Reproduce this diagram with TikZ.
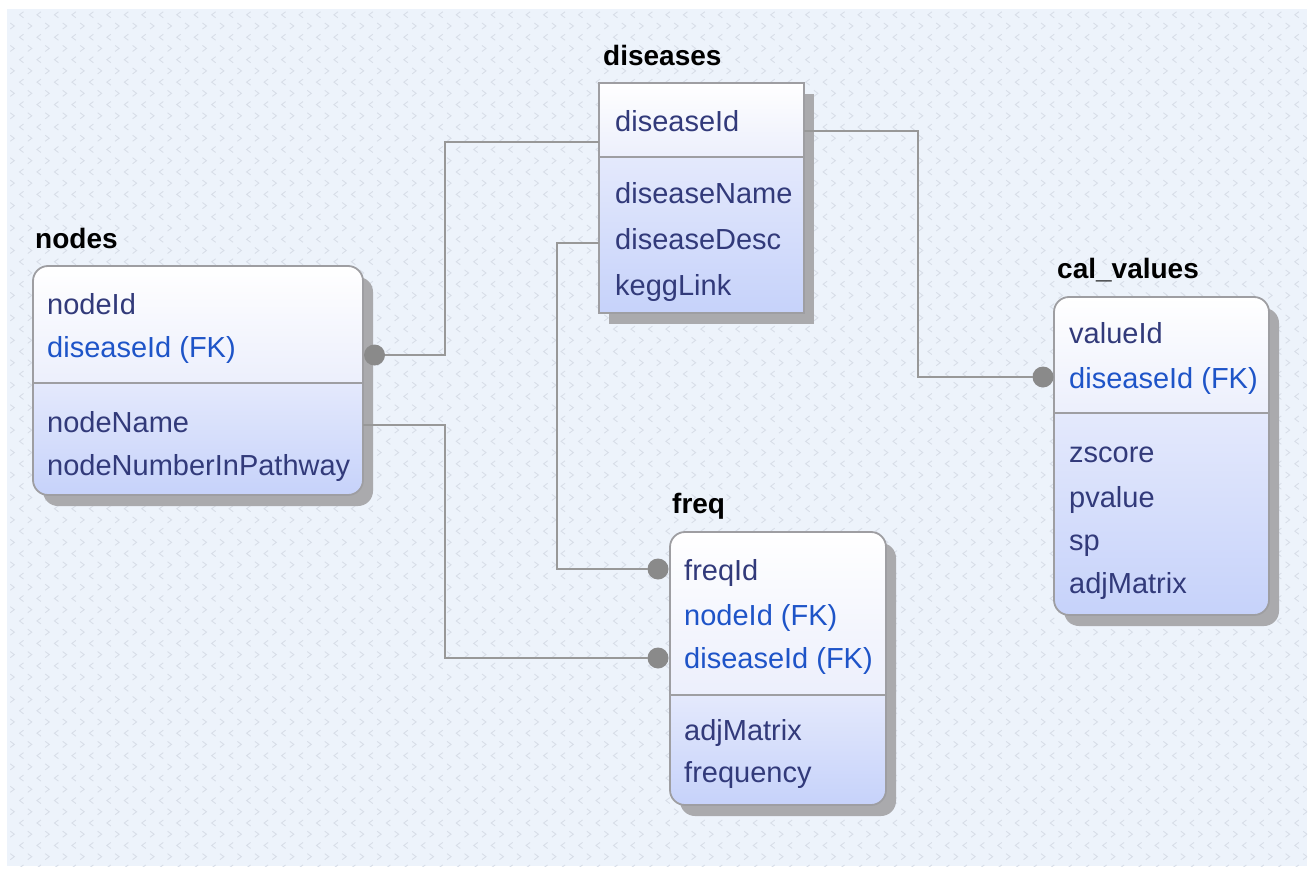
\documentclass[tikz,border=0pt]{standalone}
\usepackage{fontspec}
\setmainfont{Liberation Sans}
\usetikzlibrary{calc}

\definecolor{bgfill}{RGB}{237,243,251}
\definecolor{chevcol}{RGB}{216,222,232}
\definecolor{boxedge}{RGB}{158,158,162}
\definecolor{shadowcol}{RGB}{170,170,173}
\definecolor{linkcol}{RGB}{152,152,152}
\definecolor{dotcol}{RGB}{138,138,138}
\definecolor{attrcol}{RGB}{50,58,122}
\definecolor{fkcol}{RGB}{30,84,200}
\definecolor{uppershade}{RGB}{236,239,252}
\definecolor{lowertop}{RGB}{228,233,252}
\definecolor{lowerbot}{RGB}{198,210,250}

\tikzset{
  attr/.style={anchor=base west, inner sep=0pt, font=\fontsize{29}{34}\selectfont, text=attrcol},
  fkattr/.style={attr, text=fkcol},
  tabletitle/.style={anchor=base west, inner sep=0pt, font=\fontsize{28}{32}\selectfont\bfseries, text=black},
  tableframe/.style={draw=boxedge, line width=1.8pt, inner sep=0pt, outer sep=0pt, anchor=north west},
  sepline/.style={draw=boxedge, line width=1.8pt},
  link/.style={draw=linkcol, line width=2pt},
  keydot/.style={circle, fill=dotcol, minimum size=21pt, inner sep=0pt, outer sep=0pt},
  chev/.style={draw=chevcol, line width=0.9pt},
}

% #1 name, #2 left, #3 top, #4 right, #5 bottom, #6 separator, #7 corner radius
\newcommand{\entitybox}[7]{%
  \fill[shadowcol, rounded corners=#7pt] (#2+10,#3+11) rectangle (#4+10,#5+11);
  \begin{scope}
    \clip[rounded corners=#7pt] (#2,#3) rectangle (#4,#5);
    \shade[top color=white, bottom color=uppershade] (#2,#3) rectangle (#4,#6);
    \shade[top color=lowertop, bottom color=lowerbot] (#2,#6) rectangle (#4,#5);
  \end{scope}
  \draw[sepline] (#2,#6) -- (#4,#6);
  \node[tableframe, rounded corners=#7pt, minimum width={(#4-#2)*1pt}, minimum height={(#5-#3)*1pt}] (#1) at (#2,#3) {};
}

\begin{document}
\begin{tikzpicture}[x=1pt, y=-1pt]
  \useasboundingbox (0,0) rectangle (1309,869);
  \fill[white] (0,0) rectangle (1309,869);

  % patterned canvas
  \fill[bgfill] (7,9) rectangle (1307,866);
  \begin{scope}
    \clip (7,9) rectangle (1307,866);
    \draw[chev] \foreach \j in {0,...,38} { \foreach \i in {0,...,74} {
      ({10.3+17.47*\i},{23+22.45*\j}) -- ++(4,3) -- ++(-4,3)
      ({23.5+17.47*\i},{11.8+22.45*\j}) -- ++(-4,3) -- ++(4,3) } };
  \end{scope}

  % tables
  \entitybox{nodes}{33}{266}{363}{495}{383}{15}
  \entitybox{diseases}{599}{83}{804}{313}{157}{0}
  \entitybox{freq}{670}{532}{886}{805}{695}{15}
  \entitybox{calvalues}{1054}{297}{1269}{615}{413}{15}

  % titles
  \node[tabletitle] (nodes-title) at (35,248) {nodes};
  \node[tabletitle] (diseases-title) at (603,66) {diseases};
  \node[tabletitle] (freq-title) at (672,513) {freq};
  \node[tabletitle] (calvalues-title) at (1057,278) {cal\_values};

  % nodes columns
  \node[attr]   (nodes-a1) at (47,314) {nodeId};
  \node[fkattr] (nodes-a2) at (47,357) {diseaseId (FK)};
  \node[attr]   (nodes-a3) at (47,432) {nodeName};
  \node[attr]   (nodes-a4) at (47,475) {nodeNumberInPathway};

  % diseases columns
  \node[attr] (diseases-a1) at (615,132) {diseaseId};
  \node[attr] (diseases-a2) at (615,204) {diseaseName};
  \node[attr] (diseases-a3) at (615,249) {diseaseDesc};
  \node[attr] (diseases-a4) at (615,295) {keggLink};

  % freq columns
  \node[attr]   (freq-a1) at (684,580) {freqId};
  \node[fkattr] (freq-a2) at (684,625) {nodeId (FK)};
  \node[fkattr] (freq-a3) at (684,668) {diseaseId (FK)};
  \node[attr]   (freq-a4) at (684,740) {adjMatrix};
  \node[attr]   (freq-a5) at (684,782) {frequency};

  % cal_values columns
  \node[attr]   (calvalues-a1) at (1069,343) {valueId};
  \node[fkattr] (calvalues-a2) at (1069,388) {diseaseId (FK)};
  \node[attr]   (calvalues-a3) at (1069,462) {zscore};
  \node[attr]   (calvalues-a4) at (1069,507) {pvalue};
  \node[attr]   (calvalues-a5) at (1069,550) {sp};
  \node[attr]   (calvalues-a6) at (1069,593) {adjMatrix};

  % relationship end points
  \coordinate (busL) at (445,0);
  \coordinate (busM) at (557,0);
  \coordinate (busR) at (918,0);
  \coordinate (diseases-in1) at (599,142);
  \coordinate (diseases-in2) at (599,243);
  \coordinate (diseases-out) at (804,131);
  \coordinate (nodes-out) at (363,425);

  \node[keydot] (dotA) at (374.5,355) {};
  \node[keydot] (dotB) at (658,569) {};
  \node[keydot] (dotC) at (1043,377) {};
  \node[keydot] (dotD) at (658,658) {};

  % relationships
  \draw[link] (dotA) -- (dotA -| busL) |- (diseases-in1);
  \draw[link] (diseases-in2) -| (busM |- dotB) -- (dotB);
  \draw[link] (diseases-out) -| (busR |- dotC) -- (dotC);
  \draw[link] (nodes-out) -| (busL |- dotD) -- (dotD);
\end{tikzpicture}
\end{document}
